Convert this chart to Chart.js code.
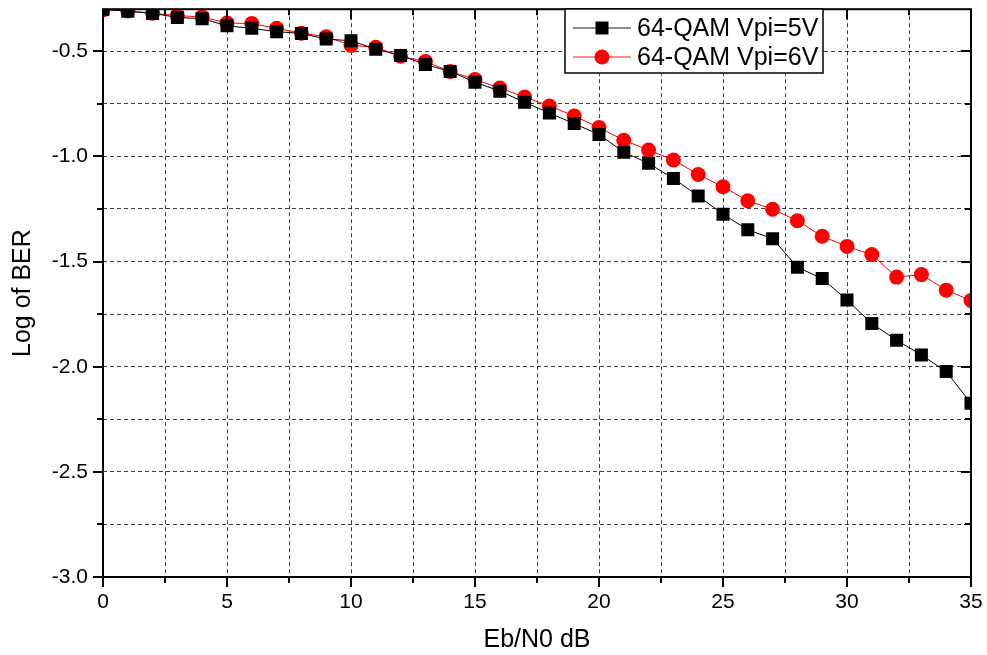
<!DOCTYPE html>
<html>
<head>
<meta charset="utf-8">
<script src="https://cdn.jsdelivr.net/npm/chart.js@4"></script>
<style>
  html, body { margin: 0; padding: 0; background: #fff; }
  #wrap { width: 987px; height: 655px; }
</style>
</head>
<body>
<div id="wrap"><canvas id="berChart"></canvas></div>
<script>
// Eb/N0 in dB
const ebn0 = [0, 1, 2, 3, 4, 5, 6, 7, 8, 9, 10, 11, 12, 13, 14, 15, 16, 17,
  18, 19, 20, 21, 22, 23, 24, 25, 26, 27, 28, 29, 30, 31, 32, 33, 34, 35];

// log10(BER) per series
const berVpi5 = [-0.30, -0.31, -0.32, -0.339, -0.345, -0.379, -0.391, -0.407,
  -0.415, -0.442, -0.45, -0.49, -0.52, -0.563, -0.596, -0.647, -0.69, -0.742,
  -0.794, -0.844, -0.896, -0.98, -1.033, -1.105, -1.188, -1.275, -1.349, -1.391,
  -1.527, -1.581, -1.683, -1.795, -1.874, -1.944, -2.023, -2.174];
const berVpi6 = [-0.303, -0.308, -0.319, -0.331, -0.336, -0.366, -0.368, -0.391,
  -0.414, -0.431, -0.472, -0.481, -0.524, -0.549, -0.596, -0.634, -0.675, -0.718,
  -0.76, -0.808, -0.863, -0.923, -0.97, -1.017, -1.086, -1.144, -1.211, -1.251,
  -1.306, -1.38, -1.428, -1.467, -1.574, -1.562, -1.636, -1.685];

const seriesLabels = ["64-QAM Vpi=5V", "64-QAM Vpi=6V"];

// axis ranges / tick steps
const xRange = [0, 35];
const yRange = [-3.0, -0.3];
const xMajor = 5, xMinor = 2.5;
const yMajor = 0.5, yMinor = 0.25;

const FONT = "'Liberation Sans', Arial, sans-serif";
const gridColor = "rgba(0,0,0,0.75)";
const gridDash = [4, 3];

const isMultiple = (v, step) => Math.abs(v / step - Math.round(v / step)) < 1e-6;

// frame with ticks on all four sides (out on left/bottom, in on top/right)
const framePlugin = {
  id: "frame",
  afterDatasetsDraw(chart) {
    const { ctx, chartArea: a, scales } = chart;
    ctx.save();
    ctx.strokeStyle = "#000";
    ctx.lineWidth = 2;
    ctx.strokeRect(a.left, a.top, a.right - a.left, a.bottom - a.top);
    ctx.beginPath();
    for (let v = xRange[0]; v <= xRange[1] + 1e-9; v += xMinor) {
      const px = Math.round(scales.x.getPixelForValue(v));
      const len = isMultiple(v, xMajor) ? 10 : 6;
      ctx.moveTo(px, a.bottom); ctx.lineTo(px, a.bottom + len);
      ctx.moveTo(px, a.top); ctx.lineTo(px, a.top + len);
    }
    for (let v = yRange[0]; v <= yRange[1] + 1e-9; v += yMinor) {
      const py = Math.round(scales.y.getPixelForValue(v));
      const len = isMultiple(v, yMajor) ? 10 : 6;
      ctx.moveTo(a.left, py); ctx.lineTo(a.left - len, py);
      ctx.moveTo(a.right, py); ctx.lineTo(a.right - len, py);
    }
    ctx.stroke();
    ctx.restore();
  },
};

// boxed legend inside the plot, top right
const boxLegendPlugin = {
  id: "boxLegend",
  afterDraw(chart) {
    const { ctx } = chart;
    const box = { x: 565, y: 9, w: 258, h: 64 };
    ctx.save();
    ctx.fillStyle = "#fff";
    ctx.fillRect(box.x, box.y, box.w, box.h);
    ctx.strokeStyle = "#000";
    ctx.lineWidth = 1.5;
    ctx.strokeRect(box.x, box.y, box.w, box.h);
    ctx.font = "25px " + FONT;
    ctx.textBaseline = "middle";
    chart.data.datasets.forEach((ds, i) => {
      const cy = box.y + 19 + i * 29;
      const cx = box.x + 37;
      ctx.strokeStyle = ds.borderColor;
      ctx.globalAlpha = 0.6;
      ctx.lineWidth = 1.5;
      ctx.beginPath();
      ctx.moveTo(box.x + 8, cy); ctx.lineTo(box.x + 66, cy);
      ctx.stroke();
      ctx.globalAlpha = 1;
      ctx.fillStyle = ds.pointBackgroundColor;
      if (ds.pointStyle === "rect") {
        ctx.fillRect(cx - 6.5, cy - 6.5, 13, 13);
      } else {
        ctx.beginPath();
        ctx.arc(cx, cy, 7.5, 0, Math.PI * 2);
        ctx.fill();
      }
      ctx.fillStyle = "#000";
      ctx.fillText(ds.label, box.x + 72, cy + 1);
    });
    ctx.restore();
  },
};

const ctx = document.getElementById("berChart");
new Chart(ctx, {
  type: "line",
  data: {
    labels: ebn0,
    datasets: [
      {
        label: seriesLabels[0],
        data: ebn0.map((x, i) => ({ x: x, y: berVpi5[i] })),
        borderColor: "#000000",
        backgroundColor: "#000000",
        pointBackgroundColor: "#000000",
        pointBorderColor: "#000000",
        pointStyle: "rect",
        pointRadius: 9.2,
        pointBorderWidth: 0,
        borderWidth: 1,
        tension: 0,
        clip: 0,
      },
      {
        label: seriesLabels[1],
        data: ebn0.map((x, i) => ({ x: x, y: berVpi6[i] })),
        borderColor: "#ff0000",
        backgroundColor: "#ff0000",
        pointBackgroundColor: "#ff0000",
        pointBorderColor: "#ff0000",
        pointStyle: "circle",
        pointRadius: 7.5,
        pointBorderWidth: 0,
        borderWidth: 1,
        tension: 0,
        clip: 0,
      },
    ],
  },
  options: {
    responsive: true,
    maintainAspectRatio: false,
    animation: false,
    events: [],
    layout: { padding: { left: 8, right: 16, top: 7, bottom: 0 } },
    plugins: {
      legend: { display: false },
      tooltip: { enabled: false },
    },
    scales: {
      x: {
        type: "linear",
        min: xRange[0],
        max: xRange[1],
        afterFit(scale) {
          scale.height = 78;
          scale.paddingLeft = 0;
          scale.paddingRight = 0;
        },
        border: { display: false, dash: gridDash },
        grid: {
          color: gridColor,
          lineWidth: 1,
          drawTicks: false,
        },
        ticks: {
          stepSize: xMinor,
          padding: 13,
          color: "#000",
          font: { family: FONT, size: 21 },
          maxRotation: 0,
          autoSkip: false,
          callback: (v) => (isMultiple(v, xMajor) ? String(v) : ""),
        },
        title: {
          display: true,
          text: "Eb/N0 dB",
          color: "#000",
          font: { family: FONT, size: 25 },
          padding: { top: 0, bottom: 0 },
        },
      },
      y: {
        type: "linear",
        min: yRange[0],
        max: yRange[1],
        afterFit(scale) {
          scale.width = 95;
          scale.paddingTop = 0;
          scale.paddingBottom = 0;
        },
        border: { display: false, dash: gridDash },
        grid: {
          color: gridColor,
          lineWidth: 1,
          drawTicks: false,
        },
        ticks: {
          stepSize: yMinor,
          padding: 15,
          color: "#000",
          font: { family: FONT, size: 21 },
          autoSkip: false,
          callback: (v) => {
            if (!isMultiple(v, yMinor)) return null;
            return isMultiple(v, yMajor) ? v.toFixed(1) : "";
          },
        },
        title: {
          display: true,
          text: "Log of BER",
          color: "#000",
          font: { family: FONT, size: 25 },
          padding: { top: 0, bottom: 0 },
        },
      },
    },
  },
  plugins: [framePlugin, boxLegendPlugin],
});
</script>
</body>
</html>
